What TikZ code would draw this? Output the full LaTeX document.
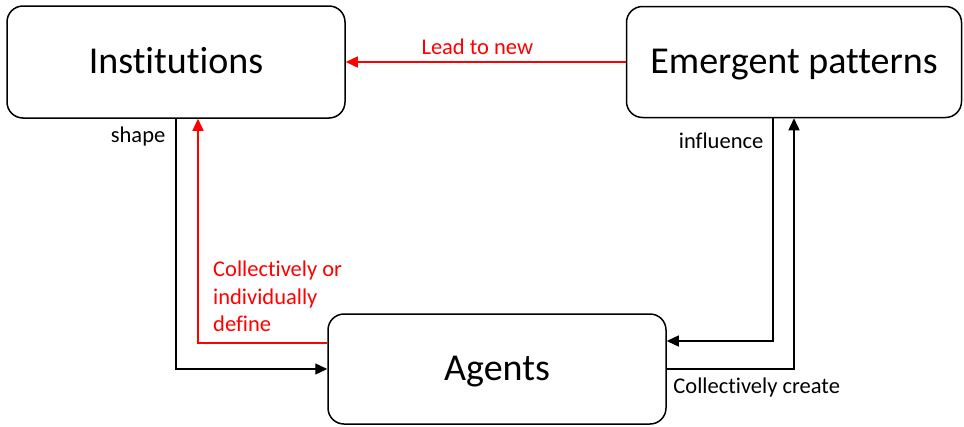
\documentclass[tikz,border=0pt]{standalone}
\usepackage{fontspec}
\setmainfont[Ligatures=NoCommon]{Carlito}
\usepackage{tikz}
\usetikzlibrary{arrows.meta, positioning, calc}

\begin{document}
\begin{tikzpicture}[x=1pt, y=-1pt,
	box/.style={draw, line width=1.5pt, rounded corners=16pt, minimum width=338pt, minimum height=112pt, inner sep=0pt, text height=28pt, text depth=6pt, font=\fontsize{38}{40}\selectfont},
	link/.style={line width=1.4pt, -{Triangle[length=12pt, width=11pt]}},
	lbl/.style={inner sep=0pt, font=\fontsize{22.5}{27.5}\selectfont}]
	\useasboundingbox (0,0) rectangle (964,426);
	\node[box] (inst) at (176,62) {Institutions};
	\node[box, minimum width=335pt, minimum height=111pt] (emerg) at (794,62) {Emergent patterns};
	\node[box, minimum height=110pt] (agents) at (497,369) {Agents};
	
	\draw[link, red] (emerg.west) -- node[lbl, pos=0.53, above=7pt] (leadlbl) {Lead to new} (inst.east);
	\draw[link] (inst.south) |- node[lbl, pos=0.035, left=10pt] (shapelbl) {shape} (agents.west);
	\draw[link, red] ([yshift=26pt]agents.west) -| ([xshift=22pt]inst.south);
	\node[lbl, red, align=left, anchor=north west] (definelbl) at (213,261) {Collectively or\\individually\\define};
	\draw[link] ([xshift=-21pt]emerg.south) |- node[lbl, pos=0.05, left=9pt] (influlbl) {influence} ([yshift=28pt]agents.east);
	\draw[link] (agents.east) -| node[lbl, pos=0, below right=8pt and 6pt] (createlbl) {Collectively create} (emerg.south);
\end{tikzpicture}
\end{document}
